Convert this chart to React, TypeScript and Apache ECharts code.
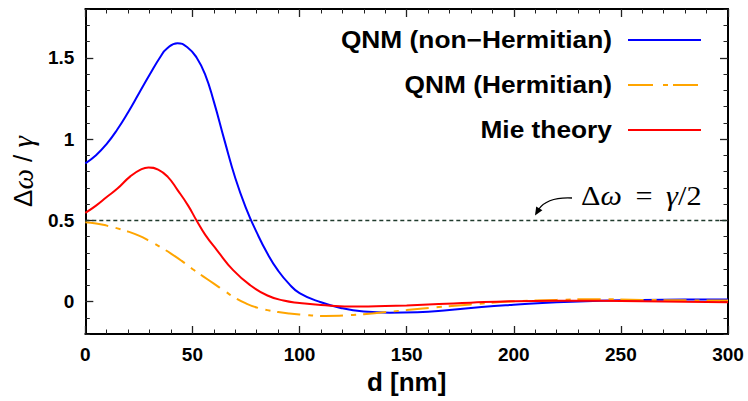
import React, { useEffect, useRef } from "react";
import * as echarts from "echarts";

// ---- data ----
const dNonHermitian = [0, 5, 10, 15, 20, 25, 30, 35, 38, 43, 48, 52, 56, 60, 65, 70, 75, 80, 85, 90, 95, 100, 110, 120, 130, 142, 155, 170, 185, 200, 220, 240, 260, 280, 300];
const qnmNonHermitian = [0.85, 0.9, 0.97, 1.06, 1.165, 1.28, 1.395, 1.505, 1.555, 1.59, 1.56, 1.5, 1.395, 1.23, 0.99, 0.76, 0.575, 0.425, 0.295, 0.19, 0.11, 0.052, -0.005, -0.042, -0.062, -0.069, -0.066, -0.052, -0.034, -0.02, -0.004, 0.004, 0.009, 0.012, 0.013];

const dHermitian = [0, 5, 10, 15, 20, 25, 30, 35, 40, 45, 50, 55, 60, 65, 70, 75, 80, 85, 90, 95, 100, 112, 125, 135, 150, 165, 180, 200, 220, 238, 260, 280, 300];
const qnmHermitian = [0.487, 0.48, 0.467, 0.45, 0.43, 0.405, 0.372, 0.335, 0.295, 0.25, 0.2, 0.155, 0.11, 0.065, 0.022, -0.012, -0.037, -0.053, -0.065, -0.074, -0.08, -0.089, -0.083, -0.072, -0.053, -0.034, -0.018, 0.001, 0.01, 0.014, 0.01, 0.007, 0.006];

const dMie = [0, 5, 10, 15, 21, 26, 29.5, 34, 38.5, 43, 48, 52, 56, 61.5, 69, 77, 85, 92.5, 100, 110, 128, 140, 150, 165, 180, 200, 220, 240, 260, 280, 300];
const mieTheory = [0.545, 0.59, 0.643, 0.695, 0.77, 0.813, 0.825, 0.812, 0.767, 0.687, 0.59, 0.497, 0.41, 0.315, 0.193, 0.1, 0.037, 0.006, -0.009, -0.022, -0.031, -0.028, -0.024, -0.016, -0.007, 0.002, 0.005, 0.004, 0.002, -0.001, -0.004];

const seriesNames = ["QNM (non\u2212Hermitian)", "QNM (Hermitian)", "Mie theory"];
const seriesColors = ["#0000ff", "#ffa500", "#ff0000"];
const yMajorTicks = [0, 0.5, 1, 1.5];
const halfLevel = 0.5;

const X_MIN = 0, X_MAX = 300, Y_MIN = -0.2, Y_MAX = 1.8;

const FONT = "Liberation Sans, Arial, Helvetica, sans-serif";
const SERIF = "Liberation Serif, Times New Roman, serif";

export default function App() {
  const ref = useRef<HTMLDivElement>(null);

  useEffect(() => {
    if (!ref.current) return;
    const chart = echarts.init(ref.current, undefined, { renderer: "svg" });

    const frameLine = { show: true, onZero: false, lineStyle: { color: "#000", width: 2 } };
    const majorTick = { show: true, inside: true, length: 8, lineStyle: { color: "#222", width: 1.3 } };
    const minorTick = { show: true, inside: true, length: 4.5, lineStyle: { color: "#222", width: 1 } };
    const labelStyle = { fontSize: 19, fontWeight: "bold", color: "#000", fontFamily: FONT };

    const xBase = (pos: "bottom" | "top", showLabel: boolean) => ({
      type: "value",
      position: pos,
      min: X_MIN,
      max: X_MAX,
      interval: 50,
      axisLine: frameLine,
      axisTick: majorTick,
      minorTick: { ...minorTick, splitNumber: 5 },
      splitLine: { show: false },
      minorSplitLine: { show: false },
      axisLabel: { show: showLabel, margin: 11, ...labelStyle },
    });

    const yMajor = (pos: "left" | "right", showLabel: boolean) => ({
      type: "value",
      position: pos,
      min: Y_MIN,
      max: Y_MAX,
      interval: 0.1,
      axisLine: frameLine,
      axisTick: { ...majorTick, customValues: yMajorTicks },
      splitLine: { show: false },
      axisLabel: {
        show: showLabel,
        margin: 11,
        customValues: yMajorTicks,
        formatter: (v: number) => String(Math.round(v * 10) / 10),
        ...labelStyle,
      },
    });
    const yMinor = (pos: "left" | "right") => ({
      type: "value",
      position: pos,
      min: Y_MIN,
      max: Y_MAX,
      interval: 0.1,
      axisLine: { show: false, onZero: false },
      axisTick: minorTick,
      splitLine: { show: false },
      axisLabel: { show: false },
    });

    const xSets = [dNonHermitian, dHermitian, dMie];
    const valueSets = [qnmNonHermitian, qnmHermitian, mieTheory];
    const dashes = ["solid", [23, 8, 5, 7], "solid"];

    const series: any[] = valueSets.map((vals, i) => ({
      type: "line",
      name: seriesNames[i],
      xAxisIndex: 0,
      yAxisIndex: 0,
      data: xSets[i].map((d, k) => [d, vals[k]]),
      smooth: 0.5,
      showSymbol: false,
      symbol: "none",
      lineStyle: { color: seriesColors[i], width: 2, type: dashes[i] },
      z: 3 + i,
    }));
    series[0].markLine = {
      silent: true,
      symbol: "none",
      label: { show: false },
      lineStyle: { color: "#1f3a2c", width: 1.3, type: [4, 3] },
      data: [{ yAxis: halfLevel }],
      animation: false,
    };

    const legendY = [40, 85, 130];
    const legendGraphics: any[] = [];
    seriesNames.forEach((nm, i) => {
      legendGraphics.push({
        type: "text",
        x: 612,
        y: legendY[i],
        scaleX: 1.12,
        style: {
          text: nm,
          align: "right",
          verticalAlign: "middle",
          font: `bold 23.5px ${FONT}`,
          fill: "#000",
        },
      });
      legendGraphics.push({
        type: "line",
        shape: { x1: 628, y1: legendY[i], x2: i === 1 ? 698 : 701, y2: legendY[i] },
        style: {
          stroke: seriesColors[i],
          lineWidth: 2,
          lineDash: i === 1 ? [25, 10, 5, 5] : null,
        },
      });
    });

    const option: any = {
      animation: false,
      backgroundColor: "#fff",
      grid: { left: 85, right: 20, top: 9, bottom: 67, containLabel: false },
      xAxis: [
        {
          ...xBase("bottom", true),
          name: "d [nm]",
          nameLocation: "middle",
          nameGap: 35,
          nameTextStyle: { fontSize: 26, fontWeight: "bold", color: "#000", fontFamily: FONT },
        },
        xBase("top", false),
      ],
      yAxis: [
        {
          ...yMajor("left", true),
          name: "{a|\u0394}{b|\u03c9}{a| / }{b|\u03b3}",
          nameLocation: "middle",
          nameGap: 46,
          nameRotate: 90,
          nameTextStyle: {
            color: "#000",
            rich: {
              a: { fontSize: 26, fontFamily: FONT, color: "#000" },
              b: { fontSize: 29, fontFamily: SERIF, fontStyle: "italic", color: "#000" },
            },
          },
        },
        yMinor("left"),
        yMajor("right", false),
        yMinor("right"),
      ],
      series,
      graphic: [
        ...legendGraphics,
        {
          type: "text",
          x: 581,
          y: 196,
          scaleX: 1.12,
          style: {
            text: "{u|\u0394}{i|\u03c9}{u|\u2009 = \u2009}{i|\u03b3}{u|/2}",
            verticalAlign: "middle",
            align: "left",
            rich: {
              u: { fontSize: 27, fontFamily: SERIF, fill: "#000" },
              i: { fontSize: 27, fontFamily: SERIF, fontStyle: "italic", fill: "#000" },
            },
          },
        },
        {
          type: "bezierCurve",
          shape: { x1: 572, y1: 198, cpx1: 552, cpy1: 197, cpx2: 543, cpy2: 203, x2: 538.5, y2: 209.5 },
          style: { stroke: "#000", lineWidth: 1.3, fill: null },
        },
        {
          type: "polygon",
          shape: { points: [[535, 215.5], [536.2, 206.5], [542.4, 210.3]] },
          style: { fill: "#000" },
        },
      ],
    };

    chart.setOption(option);
    return () => chart.dispose();
  }, []);

  return (
    <div
      ref={ref}
      style={{ position: "fixed", left: 0, top: 0, width: 748, height: 401, background: "#fff" }}
    />
  );
}
